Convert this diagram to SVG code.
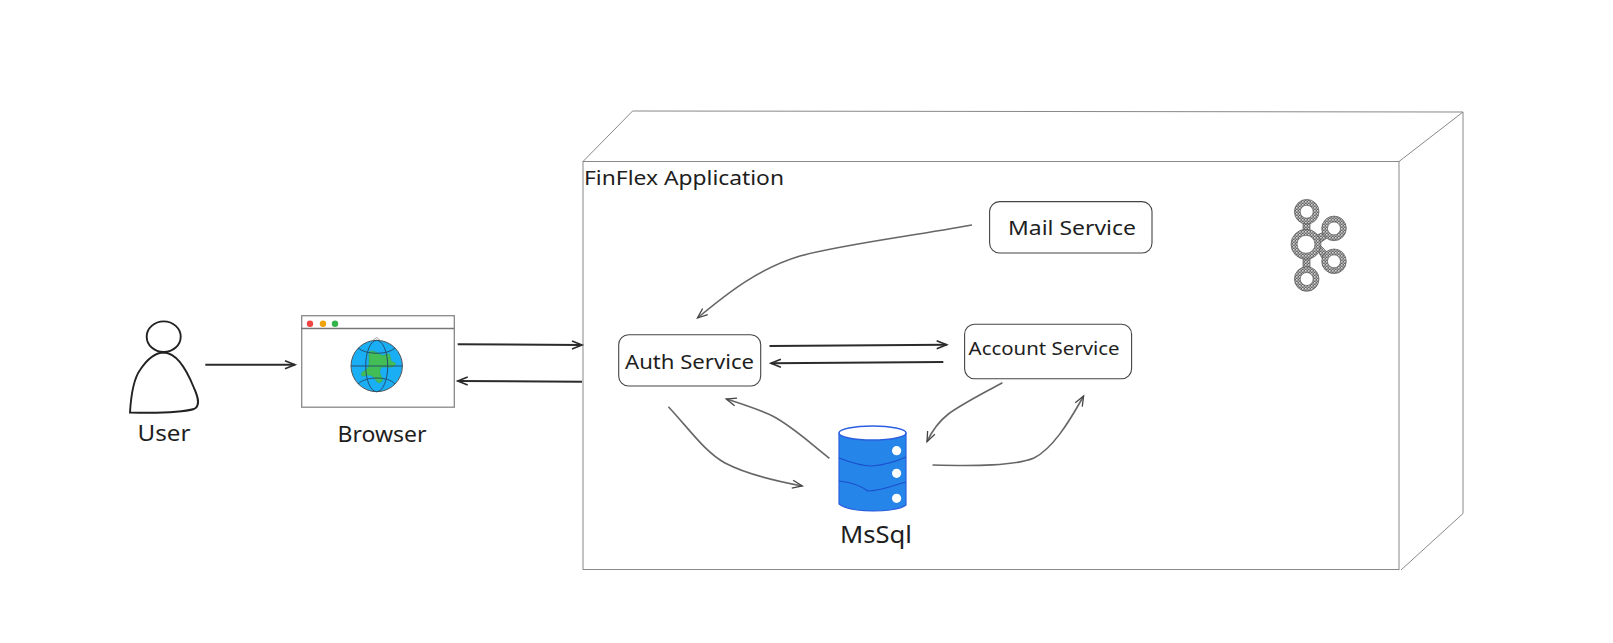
<svg xmlns="http://www.w3.org/2000/svg" width="1613" height="643" viewBox="0 0 1613 643">
<style>
.t{font-family:"Noto Sans","Liberation Sans",sans-serif;fill:#1e1e1e}
.box{fill:#fff;stroke:#444;stroke-width:1.1}
.wire{fill:none;stroke:#888;stroke-width:1}
.c{fill:none;stroke:#2b2b2b;stroke-width:2;marker-end:url(#a)}
.cv{fill:none;stroke:#666;stroke-width:1.6;marker-end:url(#b)}
.gl{fill:none;stroke:#24506f;stroke-width:1}
.hole{fill:#fff}
.kf{fill:url(#h);stroke:#555;stroke-width:.7}
</style>
<defs>
<marker id="a" markerUnits="userSpaceOnUse" markerWidth="16" markerHeight="14" refX="11" refY="6" orient="auto"><path d="M1 2L11 6L1 10" fill="none" stroke="#2b2b2b" stroke-width="1.6"/></marker>
<marker id="b" markerUnits="userSpaceOnUse" markerWidth="16" markerHeight="14" refX="11" refY="6" orient="auto"><path d="M1 2L11 6L1 10" fill="none" stroke="#444" stroke-width="1.3"/></marker>
<pattern id="h" width="3" height="3" patternUnits="userSpaceOnUse"><rect width="3" height="3" fill="#666"/><rect width="1.6" height="1.6" fill="#d4d4d4"/><rect x="1.5" y="1.5" width="1.5" height="1.5" fill="#b0b0b0"/></pattern>
</defs>
<rect width="1613" height="643" fill="#fff"/>

<g id="app-box">
<path class="wire" d="M583 161.5L632.6 111L1463 112L1463 513.5L1401 570M1399 161.5L1463 112"/>
<rect x="583" y="161.5" width="816" height="408" fill="#fff" stroke="#888" stroke-width="1"/>
<text class="t" x="584" y="185" font-size="19" textLength="200" lengthAdjust="spacingAndGlyphs">FinFlex Application</text>
</g>

<g id="user">
<ellipse cx="163.7" cy="336.7" rx="17" ry="15.3" fill="#fff" stroke="#222" stroke-width="1.9"/>
<path d="M130 412.5C131 395 133 380 140 370C148 358 156 352.5 164 352.5C176 353 186 368 194 388C199 399 200 406 194 409C180 413 150 413 130 412.5Z" fill="#fff" stroke="#222" stroke-width="1.9"/>
<text class="t" x="137.5" y="441" font-size="21" textLength="53" lengthAdjust="spacingAndGlyphs">User</text>
</g>

<g id="browser">
<rect x="301.7" y="315.7" width="152.6" height="91.5" fill="#fff" stroke="#888" stroke-width="1.3"/>
<path d="M301 328.5H454" stroke="#777" stroke-width="1.3"/>
<circle cx="310" cy="323.7" r="3.2" fill="#ef4444"/>
<circle cx="323" cy="323.7" r="3.2" fill="#f0a30a"/>
<circle cx="335" cy="323.7" r="3.2" fill="#34b44a"/>
<circle cx="376.7" cy="366" r="25.7" fill="#1aaef5" stroke="#555" stroke-width="1"/>
<path d="M369 352C372 349 378 353 381 355C384 357 386 353 389 354C392 358 389 361 393 362C397 363 396 366 392 367C387 368 381 365 380 370C379 375 384 378 382 381C380 384 377 383 375 379C373 375 368 374 364 376C360 377 361 372 364 371C368 369 369 366 369 362Z" fill="#43bd55" stroke="#3aa84a" stroke-width=".5"/>
<g class="gl">
<ellipse cx="376.7" cy="366" rx="11" ry="25.7"/>
<path d="M351 366H402.4M358 348C366 355 388 355 395 348M358 384C366 376 388 376 395 384"/>
</g>
<path d="M372 341L376.7 337.5L381 341" fill="none" stroke="#888" stroke-width=".8"/>
<text class="t" x="337.5" y="441.5" font-size="21" textLength="89" lengthAdjust="spacingAndGlyphs">Browser</text>
</g>

<g id="mail-service">
<rect class="box" x="989.6" y="201.6" width="162.4" height="51.4" rx="10"/>
<text class="t" x="1008" y="235" font-size="20" textLength="128" lengthAdjust="spacingAndGlyphs">Mail Service</text>
</g>

<g id="auth-service">
<rect class="box" x="618.7" y="334.7" width="142" height="51.3" rx="10"/>
<text class="t" x="625" y="369" font-size="20" textLength="129" lengthAdjust="spacingAndGlyphs">Auth Service</text>
</g>

<g id="account-service">
<rect class="box" x="964.6" y="324.3" width="167" height="54.4" rx="10"/>
<text class="t" x="968.6" y="355" font-size="18" textLength="151" lengthAdjust="spacingAndGlyphs">Account Service</text>
</g>

<g id="mssql">
<path d="M839 433V504C850 513 895 513 906 505V433Z" fill="#2585e8" stroke="#2a5fe0" stroke-width="1.2"/>
<ellipse cx="872.5" cy="433" rx="33.5" ry="7" fill="#fff" stroke="#2a5fe0" stroke-width="1.4"/>
<path d="M839 458C852 463 863 466 872 466C883 465 895 462 906 457M839 481C850 482 858 484 868 491C880 491 895 485 906 482" fill="none" stroke="#1c4fd0" stroke-width="1.2"/>
<circle class="hole" cx="896.6" cy="450.7" r="4.6"/>
<circle class="hole" cx="896.6" cy="473.3" r="4.6"/>
<circle class="hole" cx="896.6" cy="498.3" r="4.6"/>
<text class="t" x="840" y="543" font-size="24" textLength="72" lengthAdjust="spacingAndGlyphs">MsSql</text>
</g>

<g id="kafka">
<path class="kf" d="M1303 222H1310V232H1303ZM1303 256H1310V268H1303ZM1317 235L1324 232L1327 238L1320 243ZM1317 250L1321 246L1327 252L1322 258Z"/>
<path class="kf" fill-rule="evenodd" d="M1294.4 211.7a12.3 12.3 0 1 0 24.6 0a12.3 12.3 0 1 0 -24.6 0ZM1300.2 211.7a6.5 6.5 0 1 1 13 0a6.5 6.5 0 1 1 -13 0Z"/>
<path class="kf" fill-rule="evenodd" d="M1291 244.3a15 15 0 1 0 30 0a15 15 0 1 0 -30 0ZM1297 244.3a9 9 0 1 1 18 0a9 9 0 1 1 -18 0Z"/>
<path class="kf" fill-rule="evenodd" d="M1294.4 279a12.3 12.3 0 1 0 24.6 0a12.3 12.3 0 1 0 -24.6 0ZM1300.2 279a6.5 6.5 0 1 1 13 0a6.5 6.5 0 1 1 -13 0Z"/>
<path class="kf" fill-rule="evenodd" d="M1321.7 228.4a12.3 12.3 0 1 0 24.6 0a12.3 12.3 0 1 0 -24.6 0ZM1327.5 228.4a6.5 6.5 0 1 1 13 0a6.5 6.5 0 1 1 -13 0Z"/>
<path class="kf" fill-rule="evenodd" d="M1321.7 261.3a12.3 12.3 0 1 0 24.6 0a12.3 12.3 0 1 0 -24.6 0ZM1327.5 261.3a6.5 6.5 0 1 1 13 0a6.5 6.5 0 1 1 -13 0Z"/>
</g>

<g id="connectors">
<path class="c" d="M205.3 364.7H295"/>
<path class="c" d="M457.7 344.3L582 345"/>
<path class="c" d="M582 381.7L457.7 381"/>
<path class="c" d="M769.5 346L946.7 344.7"/>
<path class="c" d="M943.3 362L770.9 363.3"/>
<path class="cv" d="M972 225C905 237 840 245 800 256C760 268 730 291 697.5 318"/>
<path class="cv" d="M668.4 406.7C690 430 705 452 725 463C748 475 775 481 802.3 486"/>
<path class="cv" d="M829.4 458.3C812 445 795 428 772.6 416C758 409 742 404 726.3 399"/>
<path class="cv" d="M1002.4 382.7C982 394 962 404 948.4 414C938 422 932 431 927 441.7"/>
<path class="cv" d="M932.5 465C975 466 1015 466 1034 458C1052 449 1068 424 1083.6 396"/>
</g>
</svg>
